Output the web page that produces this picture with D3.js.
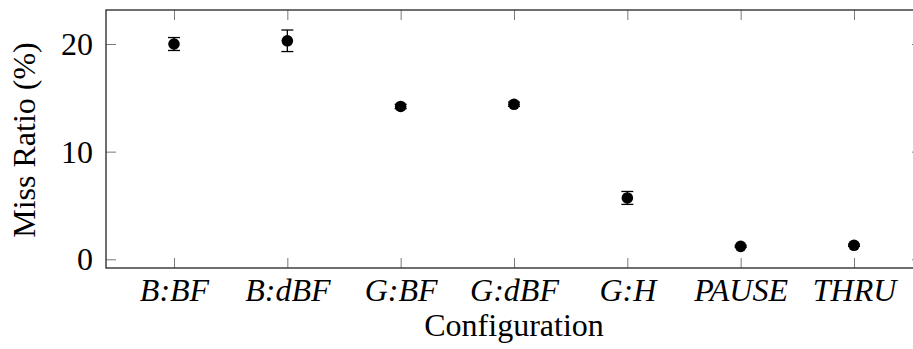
<!DOCTYPE html>
<html>
<head>
<meta charset="utf-8">
<script src="https://cdn.jsdelivr.net/npm/d3@7"></script>
<style>
  html, body { margin: 0; padding: 0; background: #fff; overflow: hidden; }
  svg { display: block; }
</style>
</head>
<body>
<svg id="chart" width="913" height="349"></svg>
<script>
// Miss ratio per configuration, with error half-widths (percent)
const configurations = ["B:BF", "B:dBF", "G:BF", "G:dBF", "G:H", "PAUSE", "THRU"];
const missRatio = [20.0, 20.3, 14.2, 14.4, 5.7, 1.2, 1.3];
const missError = [0.6, 1.0, 0.2, 0.2, 0.6, 0.1, 0.1];
const yTicks = [0, 10, 20];

const plot = { left: 106, right: 922, top: 10, bottom: 268 };
const serif = "Liberation Serif";

const svg = d3.select("#chart");

const x = d3.scalePoint()
  .domain(configurations)
  .range([plot.left, plot.right])
  .padding(0.6);

const y = d3.scaleLinear()
  .domain([-0.81, 23.16])
  .range([plot.bottom, plot.top]);

const tickLen = 10;
const tickColor = "#7a7a7a";
const fontSize = 32;

// Inward ticks on all four sides
const gBottom = svg.append("g")
  .attr("transform", `translate(0,${plot.bottom})`)
  .call(d3.axisBottom(x).tickSizeInner(-tickLen).tickSizeOuter(0).tickPadding(12));
const gTop = svg.append("g")
  .attr("transform", `translate(0,${plot.top})`)
  .call(d3.axisTop(x).tickSizeInner(-tickLen).tickSizeOuter(0).tickFormat(""));
const gLeft = svg.append("g")
  .attr("transform", `translate(${plot.left},0)`)
  .call(d3.axisLeft(y).tickValues(yTicks).tickSizeInner(-tickLen).tickSizeOuter(0).tickPadding(13));
const gRight = svg.append("g")
  .attr("transform", `translate(${plot.right},0)`)
  .call(d3.axisRight(y).tickValues(yTicks).tickSizeInner(-tickLen).tickSizeOuter(0).tickFormat(""));

[gBottom, gTop, gLeft, gRight].forEach(g => {
  g.attr("font-family", serif).attr("font-size", fontSize);
  g.select(".domain").remove();
  g.selectAll(".tick line").attr("stroke", tickColor).attr("stroke-width", 1);
});

gBottom.selectAll(".tick text")
  .attr("font-style", "italic")
  .attr("dy", "0.66em");

gLeft.selectAll(".tick text")
  .attr("dy", "0.33em");

// Plot frame
svg.append("rect")
  .attr("x", plot.left)
  .attr("y", plot.top)
  .attr("width", plot.right - plot.left)
  .attr("height", plot.bottom - plot.top)
  .attr("fill", "none")
  .attr("stroke", "#333")
  .attr("stroke-width", 1.4);

// Error bars and markers
const pts = configurations.map((c, i) => ({ c, v: missRatio[i], e: missError[i] }));
const capHalf = 6;

const eb = svg.append("g").attr("stroke", "#000").attr("stroke-width", 1.3);
eb.selectAll("line.stem").data(pts).join("line")
  .attr("class", "stem")
  .attr("x1", d => x(d.c)).attr("x2", d => x(d.c))
  .attr("y1", d => y(d.v - d.e)).attr("y2", d => y(d.v + d.e));
eb.selectAll("line.capTop").data(pts).join("line")
  .attr("class", "capTop")
  .attr("x1", d => x(d.c) - capHalf).attr("x2", d => x(d.c) + capHalf)
  .attr("y1", d => y(d.v + d.e)).attr("y2", d => y(d.v + d.e));
eb.selectAll("line.capBot").data(pts).join("line")
  .attr("class", "capBot")
  .attr("x1", d => x(d.c) - capHalf).attr("x2", d => x(d.c) + capHalf)
  .attr("y1", d => y(d.v - d.e)).attr("y2", d => y(d.v - d.e));

svg.append("g").selectAll("circle").data(pts).join("circle")
  .attr("cx", d => x(d.c))
  .attr("cy", d => y(d.v))
  .attr("r", 5.8)
  .attr("fill", "#000");

// Axis titles
svg.append("text")
  .attr("x", (plot.left + plot.right) / 2)
  .attr("y", 336)
  .attr("text-anchor", "middle")
  .attr("font-family", serif)
  .attr("font-size", fontSize)
  .text("Configuration");

svg.append("text")
  .attr("transform", `translate(35,140) rotate(-90)`)
  .attr("text-anchor", "middle")
  .attr("font-family", serif)
  .attr("font-size", fontSize)
  .text("Miss Ratio (%)");
</script>
</body>
</html>
